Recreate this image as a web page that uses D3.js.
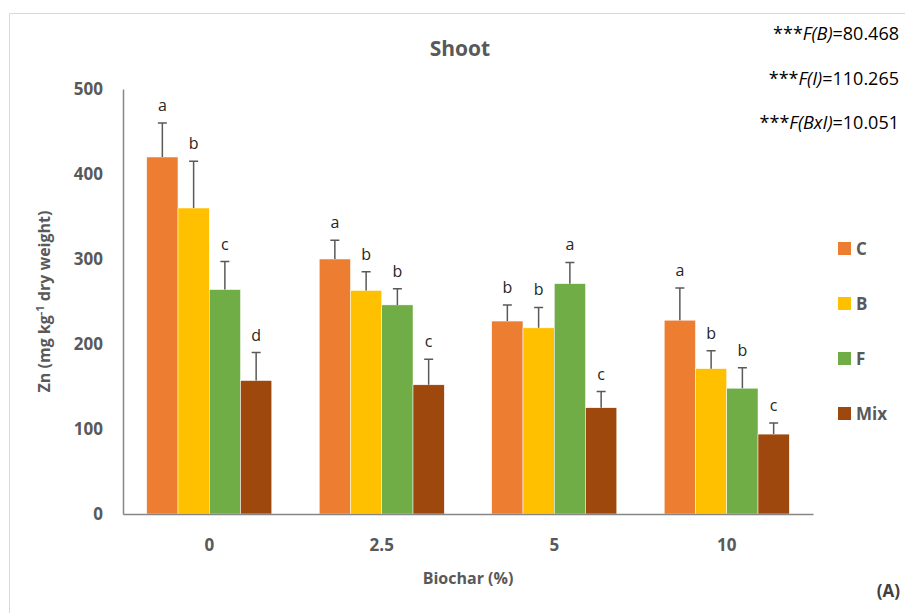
<!DOCTYPE html>
<html>
<head>
<meta charset="utf-8">
<script src="https://cdn.jsdelivr.net/npm/d3@7"></script>
<style>
  body { margin: 0; background: #fff; }
  text { font-family: "Open Sans", "Liberation Sans", sans-serif; }
</style>
</head>
<body>
<div id="chart"></div>
<script>
// data
var biochar = ["0", "2.5", "5", "10"];
var treatments = ["C", "B", "F", "Mix"];
var colors = ["#ED7D31", "#FFC000", "#70AD47", "#9E480E"];
var meanC = [420, 300, 227, 228];
var meanB = [360, 263, 219, 171];
var meanF = [264, 246, 271, 148];
var meanMix = [157, 152, 125, 94];
var sdC = [40, 22, 19, 38];
var sdB = [55, 22, 24, 21];
var sdF = [33, 19, 25, 24];
var sdMix = [33, 30, 19, 13];
var lettersC = ["a", "a", "b", "a"];
var lettersB = ["b", "b", "b", "b"];
var lettersF = ["c", "b", "a", "b"];
var lettersMix = ["d", "c", "c", "c"];
var yTicks = [0, 100, 200, 300, 400, 500];
var fStats = [["F(B)", "=80.468"], ["F(I)", "=110.265"], ["F(BxI)", "=10.051"]];

var means = [meanC, meanB, meanF, meanMix];
var sds = [sdC, sdB, sdF, sdMix];
var letters = [lettersC, lettersB, lettersF, lettersMix];

var rows = [];
biochar.forEach(function(b, i) {
  treatments.forEach(function(t, j) {
    rows.push({ group: b, trt: t, mean: means[j][i], sd: sds[j][i], letter: letters[j][i], color: colors[j] });
  });
});

var width = 905, height = 613;
var margin = { top: 89, left: 123, bottom: 99, right: 92 };

var svg = d3.select("#chart").append("svg")
  .attr("width", width)
  .attr("height", height);

// chart area border
svg.append("path")
  .attr("d", "M9.5," + height + "V13.5H" + width)
  .attr("fill", "none")
  .attr("stroke", "#d9d9d9")
  .attr("stroke-width", 1);

var x0 = d3.scaleBand()
  .domain(biochar)
  .range([margin.left, width - margin.right])
  .paddingInner(0.275)
  .paddingOuter(0.1375);

var x1 = d3.scaleBand()
  .domain(treatments)
  .range([0, x0.bandwidth()]);

var y = d3.scaleLinear()
  .domain([0, 500])
  .range([height - margin.bottom, margin.top]);

var grey = "#595959";

// bars
var g = svg.append("g");
g.selectAll(".bar")
  .data(rows)
  .enter().append("rect")
  .attr("class", "bar")
  .attr("x", function(d) { return x0(d.group) + x1(d.trt); })
  .attr("y", function(d) { return y(d.mean); })
  .attr("width", x1.bandwidth())
  .attr("height", function(d) { return y(0) - y(d.mean); })
  .attr("fill", function(d) { return d.color; })
  .attr("stroke", "#fff")
  .attr("stroke-width", 0.5);

// error bars (upper only)
var cx = function(d) { return x0(d.group) + x1(d.trt) + x1.bandwidth() / 2; };
g.selectAll(".err")
  .data(rows)
  .enter().append("path")
  .attr("class", "err")
  .attr("d", function(d) {
    var c = cx(d), t = y(d.mean + d.sd);
    return "M" + c + "," + y(d.mean) + "V" + t + "M" + (c - 4.5) + "," + t + "H" + (c + 4.5);
  })
  .attr("stroke", "#595959")
  .attr("stroke-width", 1.5)
  .attr("fill", "none");

g.selectAll(".letter")
  .data(rows)
  .enter().append("text")
  .attr("x", cx)
  .attr("y", function(d) { return y(d.mean + d.sd) - 12; })
  .attr("text-anchor", "middle")
  .style("font-size", "16px")
  .attr("fill", "#262626")
  .text(function(d) { return d.letter; });

// axes
var yAxis = svg.append("g")
  .attr("transform", "translate(" + margin.left + ",0)")
  .call(d3.axisLeft(y).tickValues(yTicks).tickSize(0).tickPadding(20));
yAxis.select(".domain").attr("stroke", "#868686").attr("stroke-width", 1.5);
yAxis.selectAll("text")
  .style("font-size", "17px").style("font-weight", "bold")
  .attr("fill", grey).attr("font-family", null);

var xAxis = svg.append("g")
  .attr("transform", "translate(0," + y(0) + ")")
  .call(d3.axisBottom(x0).tickSize(0).tickPadding(25).tickSizeOuter(0));
xAxis.select(".domain").attr("stroke", "#868686").attr("stroke-width", 1.5);
xAxis.selectAll("text")
  .style("font-size", "17px").style("font-weight", "bold")
  .attr("fill", grey).attr("font-family", null);

// titles
svg.append("text")
  .attr("x", 460).attr("y", 56)
  .attr("text-anchor", "middle")
  .style("font-size", "21px").style("font-weight", "bold")
  .attr("fill", grey)
  .text("Shoot");

svg.append("text")
  .attr("x", 468).attr("y", 584)
  .attr("text-anchor", "middle")
  .style("font-size", "16px").style("font-weight", "bold")
  .attr("fill", grey)
  .text("Biochar (%)");

var yt = svg.append("text")
  .attr("transform", "translate(50," + y(250) + ") rotate(-90)")
  .attr("text-anchor", "middle")
  .style("font-size", "16px").style("font-weight", "bold")
  .attr("fill", grey);
yt.append("tspan").text("Zn (mg kg");
yt.append("tspan").attr("dy", -6).style("font-size", "11px").text("-1");
yt.append("tspan").attr("dy", 6).text(" dry weight)");

svg.append("text")
  .attr("x", 900).attr("y", 597)
  .attr("text-anchor", "end")
  .style("font-size", "17px").style("font-weight", "bold")
  .attr("fill", "#404040")
  .text("(A)");

// F statistics
svg.selectAll(".fstat")
  .data(fStats)
  .enter().append("text")
  .attr("class", "fstat")
  .attr("x", 899)
  .attr("y", function(d, i) { return 40 + i * 44.5; })
  .attr("text-anchor", "end")
  .style("font-size", "18px")
  .attr("fill", "#000")
  .each(function(d) {
    var t = d3.select(this);
    t.append("tspan").text("***");
    t.append("tspan").style("font-style", "italic").text(d[0]);
    t.append("tspan").text(d[1]);
  });

// legend
var legend = svg.selectAll(".legend")
  .data(treatments)
  .enter().append("g")
  .attr("class", "legend")
  .attr("transform", function(d, i) { return "translate(838," + (242 + i * 55) + ")"; });

legend.append("rect")
  .attr("width", 13).attr("height", 13)
  .attr("fill", function(d, i) { return colors[i]; });

legend.append("text")
  .attr("x", 18).attr("y", 13)
  .style("font-size", "17px").style("font-weight", "bold")
  .attr("fill", grey)
  .text(function(d) { return d; });
</script>
</body>
</html>
